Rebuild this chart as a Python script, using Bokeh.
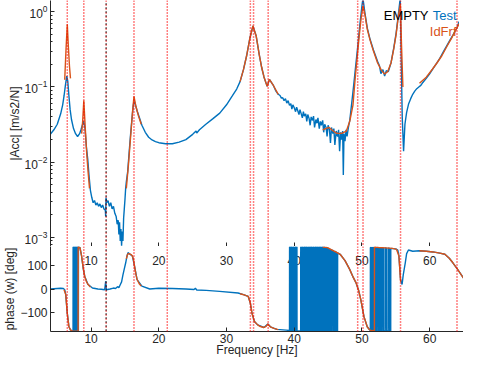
import numpy as np
from bokeh.plotting import figure
from bokeh.models import Range1d, Span, Label, FixedTicker
from bokeh.layouts import column
from bokeh.embed import file_html
from bokeh.resources import INLINE
from bokeh.core.properties import value

# ---------------- data ----------------
x_ticks = [10, 20, 30, 40, 50, 60]
phase_ticks = [-100, 0, 100]
mode_freqs = [6.48, 8.92, 16.33, 21.25, 33.52, 33.99, 36.15, 49.37, 50.16, 55.70, 64.04]
other_freqs = [12.22]

# measured FRF magnitude (Test): (Hz, m/s2/N)
test_mag = [
    (4.0, 0.0237), (4.5, 0.027), (5.0, 0.032), (5.5, 0.044), (5.8, 0.058), (6.0, 0.076),
    (6.2, 0.105), (6.4, 0.14), (6.55, 0.12), (6.7, 0.08), (6.9, 0.05), (7.1, 0.037),
    (7.4, 0.028), (7.7, 0.024), (8.0, 0.022), (8.3, 0.024), (8.5, 0.027), (8.7, 0.031),
    (8.9, 0.035), (9.1, 0.028), (9.3, 0.016), (9.5, 0.011), (9.7, 0.0065), (9.9, 0.0042),
    (10.1, 0.0034), (10.3, 0.0029), (10.5, 0.0031), (10.7, 0.0027), (10.9, 0.0029),
    (11.1, 0.0026), (11.3, 0.0028), (11.5, 0.0025), (11.7, 0.0027), (11.9, 0.0024),
    (12.1, 0.0023), (12.15, 0.0019), (12.2, 0.0034), (12.3, 0.0029), (12.5, 0.0031),
    (12.7, 0.0026), (12.9, 0.0029), (13.1, 0.0024), (13.3, 0.0026), (13.5, 0.0021),
    (13.7, 0.0019), (13.85, 0.0015), (14.0, 0.0017), (14.1, 0.0011), (14.2, 0.0016),
    (14.3, 0.0009), (14.4, 0.0013), (14.5, 0.00078), (14.6, 0.0012), (14.7, 0.0009),
    (14.8, 0.0018), (14.9, 0.0024), (15.0, 0.0032), (15.1, 0.0045), (15.2, 0.0055),
    (15.4, 0.0075), (15.6, 0.013), (15.8, 0.022), (16.0, 0.035), (16.2, 0.055),
    (16.35, 0.066), (16.5, 0.06), (16.8, 0.048), (17.1, 0.04), (17.5, 0.031),
    (18.0, 0.025), (18.5, 0.0215), (19.0, 0.0198), (19.5, 0.0188), (20.0, 0.0182),
    (21.0, 0.0176), (22.0, 0.0176), (23.0, 0.0185), (24.0, 0.02), (25.0, 0.0235),
    (25.5, 0.026), (25.6, 0.0245), (26.0, 0.027), (26.9, 0.0317), (28.0, 0.038),
    (29.0, 0.045), (30.0, 0.058), (30.85, 0.076), (31.5, 0.094), (32.0, 0.118),
    (32.5, 0.17), (32.96, 0.258), (33.43, 0.437), (33.9, 0.646), (34.37, 0.48),
    (34.83, 0.27), (35.2, 0.18), (35.53, 0.136), (36.0, 0.102), (36.33, 0.126),
    (36.94, 0.104), (37.3, 0.088), (37.64, 0.08), (37.9, 0.077), (38.1, 0.071),
    (38.3, 0.072), (38.5, 0.066), (38.7, 0.07), (38.9, 0.061), (39.1, 0.066),
    (39.3, 0.057), (39.5, 0.06), (39.65, 0.051), (39.8, 0.058), (40.0, 0.053),
    (40.2, 0.047), (40.35, 0.054), (40.5, 0.049), (40.7, 0.043), (40.85, 0.05),
    (41.0, 0.045), (41.2, 0.039), (41.35, 0.047), (41.5, 0.041), (41.7, 0.044),
    (41.85, 0.035), (42.0, 0.043), (42.2, 0.038), (42.35, 0.031), (42.5, 0.04),
    (42.7, 0.036), (42.85, 0.041), (43.0, 0.029), (43.2, 0.037), (43.35, 0.033),
    (43.5, 0.039), (43.7, 0.028), (43.85, 0.035), (44.0, 0.031), (44.2, 0.036),
    (44.35, 0.025), (44.5, 0.032), (44.7, 0.029), (44.85, 0.022), (45.0, 0.031),
    (45.2, 0.027), (45.35, 0.018), (45.5, 0.029), (45.7, 0.024), (45.85, 0.028),
    (46.0, 0.017), (46.2, 0.026), (46.4, 0.022), (46.55, 0.027), (46.7, 0.014),
    (46.85, 0.025), (47.0, 0.02), (47.15, 0.026), (47.25, 0.0068), (47.35, 0.024),
    (47.5, 0.019), (47.65, 0.027), (47.8, 0.022), (48.0, 0.029), (48.2, 0.036),
    (48.5, 0.062), (48.8, 0.11), (49.1, 0.2), (49.4, 0.36), (49.7, 0.68), (50.0, 1.2),
    (50.15, 1.5), (50.45, 0.95), (50.8, 0.6), (51.2, 0.43), (51.7, 0.31), (52.3, 0.22),
    (52.6, 0.19), (52.8, 0.15), (53.1, 0.17), (53.35, 0.14), (53.6, 0.165), (53.9, 0.16),
    (54.3, 0.21), (54.7, 0.33), (55.05, 0.52), (55.4, 0.95), (55.65, 1.5), (55.8, 0.25),
    (55.95, 0.04), (56.15, 0.014), (56.35, 0.032), (56.6, 0.046), (56.9, 0.06),
    (57.2, 0.07), (57.5, 0.08), (57.8, 0.088), (58.1, 0.095), (58.4, 0.1), (58.7, 0.105),
    (59.0, 0.115), (59.5, 0.13), (60.0, 0.15), (60.5, 0.175), (61.0, 0.205), (61.5, 0.24),
    (62.0, 0.29), (62.5, 0.35), (63.0, 0.42), (63.5, 0.5), (64.0, 0.6), (64.3, 0.72),
    (64.6, 0.78), (64.8, 0.72), (65.0, 0.68),
]

# identified FRF magnitude (IdFrf), fitted bands
idfrf_mag_bands = [
    [(6.1, 0.125), (6.3, 0.33), (6.48, 0.68), (6.65, 0.33), (6.8, 0.19), (6.95, 0.13)],
    [(8.6, 0.024), (8.75, 0.035), (8.92, 0.066), (9.05, 0.04), (9.15, 0.027),
     (9.35, 0.013), (9.55, 0.0075), (9.76, 0.0045)],
    [(15.2, 0.0045), (15.5, 0.009), (15.8, 0.02), (16.1, 0.045), (16.33, 0.075),
     (16.6, 0.056), (17.0, 0.041), (17.4, 0.032)],
    [(32.0, 0.118), (32.5, 0.17), (32.96, 0.258), (33.43, 0.437), (33.9, 0.646),
     (34.37, 0.48), (34.83, 0.27), (35.2, 0.18), (35.53, 0.136), (36.0, 0.102),
     (36.33, 0.126), (36.94, 0.104), (37.64, 0.08)],
    [(44.2, 0.027), (45.15, 0.029), (45.75, 0.026), (46.3, 0.0242), (47.0, 0.0242),
     (47.7, 0.026), (48.2, 0.035), (48.67, 0.057), (49.0, 0.13), (49.3, 0.25),
     (49.6, 0.48), (49.9, 0.85), (50.16, 1.2), (50.45, 0.9), (50.8, 0.58), (51.2, 0.42),
     (51.7, 0.3), (52.3, 0.21), (52.9, 0.165), (53.35, 0.149), (53.8, 0.16), (54.3, 0.21),
     (54.7, 0.32), (55.05, 0.5), (55.4, 0.9), (55.68, 1.25), (55.85, 0.35), (56.05, 0.1)],
    [(58.5, 0.112), (59.5, 0.135), (60.4, 0.172), (61.1, 0.21), (61.8, 0.26),
     (62.5, 0.34), (63.2, 0.44), (63.8, 0.56), (64.3, 0.68), (64.7, 0.77), (65.0, 0.83)],
]

# measured phase (Test): (Hz, deg)
test_phase = [
    (4.0, 0), (4.5, 1), (5.0, 2), (5.5, 3), (5.9, 2), (6.1, -3), (6.25, -23), (6.48, -103),
    (6.72, -160), (6.95, -173), (7.2, -178),
    (7.33, -178), (7.34, 178), (7.38, 178), (7.39, -178), (7.43, -178), (7.44, 178),
    (7.48, 178), (7.49, -178), (7.53, -178), (7.54, 178), (7.58, 178), (7.59, -178),
    (7.63, -178), (7.64, 178), (7.68, 178), (7.69, -178), (7.73, -178), (7.74, 178),
    (7.78, 178), (7.79, -178), (7.83, -178), (7.84, 178), (7.88, 178), (7.89, -178),
    (7.93, -178), (7.94, 178), (7.98, 178), (7.99, -178), (8.03, -178), (8.04, 178),
    (8.08, 178), (8.09, -178), (8.12, -178), (8.13, 178),
    (8.35, 175), (8.59, 140), (8.82, 90), (9.05, 54), (9.52, 20), (10.2, 4), (11.0, 0),
    (11.5, -1), (12.0, -3), (12.15, 33), (12.25, -3), (12.8, 0), (13.3, 4), (13.6, 2),
    (13.9, 10), (14.1, 6), (14.3, 18), (14.5, 30), (14.7, 60), (14.9, 85), (15.1, 110),
    (15.3, 140), (15.45, 154), (15.62, 150), (16.09, 140), (16.41, 97), (16.79, 40),
    (17.5, 12), (18.66, 0), (20.0, 3), (22.0, 2), (24.0, 0), (25.2, -2), (25.4, 3),
    (25.6, -4), (27.0, -6), (28.98, -10), (31.7, -17), (32.5, -24), (33.2, -31),
    (33.52, -60), (33.76, -103), (34.13, -138), (34.6, -152), (35.53, -163), (36.1, -148),
    (36.48, -160), (37.42, -171), (38.8, -174), (39.3, -176),
    (39.31, 178), (39.45, 178), (39.46, -178), (39.55, -178), (39.56, 178), (39.70, 178),
    (39.71, -178), (39.85, -178), (39.86, 178), (39.95, 178), (39.96, -178), (40.10, -178),
    (40.11, 178), (40.25, 178), (40.26, -178), (40.35, -178), (40.36, 178), (40.40, 178),
    (40.41, -178), (40.95, -178), (40.96, 178), (41.05, 178), (41.06, -178), (41.20, -178),
    (41.21, 178), (41.30, 178), (41.31, -178), (41.45, -178), (41.46, 178), (41.60, 178),
    (41.61, -178), (41.70, -178), (41.71, 178), (41.85, 178), (41.86, -178), (42.00, -178),
    (42.01, 178), (42.10, 178), (42.11, -178), (42.25, -178), (42.26, 178), (42.40, 178),
    (42.41, -178), (42.50, -178), (42.51, 178), (42.65, 178), (42.66, -178), (42.80, -178),
    (42.81, 178), (42.90, 178), (42.91, -178), (43.05, -178), (43.06, 178), (43.20, 178),
    (43.21, -178), (43.30, -178), (43.31, 178), (43.45, 178), (43.46, -178), (43.60, -178),
    (43.61, 178), (43.75, 178), (43.76, -178), (43.85, -178), (43.86, 178), (44.00, 178),
    (44.01, -178), (44.15, -178), (44.16, 178), (44.25, 178), (44.26, -178), (44.40, -178),
    (44.41, 177), (44.55, 177), (44.56, -178), (44.70, -178), (44.71, 176), (44.85, 175),
    (44.86, -178), (45.00, -178), (45.01, 173), (45.15, 171), (45.16, -178), (45.30, -178),
    (45.31, 168), (45.45, 167), (45.46, -178), (45.60, -178), (45.61, 165), (45.80, 162),
    (45.81, -178), (46.00, -178), (46.01, 159), (46.20, 156), (46.21, -178), (46.40, -178),
    (46.41, 153), (46.78, 147), (47.5, 120), (48.19, 83), (48.7, 50), (49.13, 26),
    (49.5, -5), (49.83, -45), (50.3, -117), (50.78, -160), (51.1, -172), (51.24, -176),
    (51.25, 176), (51.35, 176), (51.36, -178), (51.45, -178), (51.46, 176), (51.55, 176),
    (51.56, -178), (51.65, -178), (51.66, 176), (51.75, 176), (51.76, -178), (51.90, -178),
    (51.91, 176), (52.05, 176), (52.06, -178), (52.20, -178), (52.21, 176), (52.40, 175),
    (52.41, -178), (52.60, -178), (52.61, 175), (52.75, 175), (52.76, -178), (52.95, -178),
    (52.96, 174), (53.15, 174), (53.16, -178), (53.40, -178), (53.41, 174), (53.60, 173),
    (53.61, -178), (53.85, -178), (53.86, 173), (54.05, 173), (54.06, -178), (54.25, -178),
    (54.26, 172),
    (55.0, 170), (55.3, 165), (55.46, 140), (55.7, 40), (55.93, 19), (56.1, 60),
    (56.4, 111), (56.6, 150), (56.87, 165), (57.5, 160), (58.5, 162), (59.5, 160),
    (60.5, 157), (61.5, 152), (62.25, 147), (62.9, 130), (63.43, 111), (64.13, 83),
    (64.98, 47),
]

# identified phase (IdFrf), fitted bands
idfrf_phase_bands = [
    [(6.0, -3), (6.25, -23), (6.48, -103), (6.72, -160), (6.95, -173), (7.2, -178),
     (8.08, -179), (8.09, 179), (8.35, 175), (8.59, 140), (8.82, 90), (9.05, 54),
     (9.3, 32), (9.52, 20), (9.9, 8)],
    [(15.2, 128), (15.4, 148), (15.62, 150), (15.9, 146), (16.09, 140), (16.25, 125),
     (16.41, 97), (16.6, 65), (16.79, 40), (17.1, 22), (17.4, 13)],
    [(32.0, -20), (32.6, -25), (33.2, -31), (33.52, -60), (33.76, -103), (34.13, -138),
     (34.6, -152), (35.0, -159), (35.53, -163), (35.85, -158), (36.1, -148),
     (36.48, -160), (37.0, -167), (37.64, -172)],
    [(44.2, 178), (44.9, 175), (45.6, 165), (46.2, 156), (46.78, 147), (47.5, 120),
     (48.19, 83), (48.7, 50), (49.13, 26), (49.5, -5), (49.83, -45), (50.3, -117),
     (50.78, -160), (51.1, -172), (51.48, -177), (51.84, -178), (51.85, 178),
     (52.5, 176), (53.5, 174), (54.5, 172), (55.1, 168), (55.46, 140), (55.72, 30)],
    [(58.5, 162), (59.5, 160), (60.5, 157), (61.5, 152), (62.25, 147), (62.9, 130),
     (63.43, 111), (64.13, 83), (65.0, 46)],
]

# ---------------- styling ----------------
FONT = "Liberation Sans"
BLUE = "#0072BD"
ORANGE = "#D95319"
AX = "#262626"
X_RANGE = (4, 65)
MAG_RANGE = (7.6e-4, 1.41)
PH_RANGE = (-180, 180)
LEFT = 44
FRAME_W = 413
TOP_FH = 246
BOT_FH = 85


def pairs(pts):
    a = np.array(pts, dtype=float)
    return a[:, 0], a[:, 1]


def bands(list_of_bands):
    xs, ys = [], []
    for b in list_of_bands:
        x, y = pairs(b)
        xs.append(x)
        ys.append(y)
    return xs, ys


def style_axis(ax, label=None, label_standoff=0):
    if label is not None:
        ax.axis_label = label
        ax.axis_label_text_font = FONT
        ax.axis_label_text_font_size = "12px"
        ax.axis_label_text_font_style = "normal"
        ax.axis_label_text_color = AX
        ax.axis_label_standoff = label_standoff
    ax.major_label_text_font = FONT
    ax.major_label_text_font_size = "12px"
    ax.major_label_text_color = AX
    ax.major_label_standoff = 3
    ax.major_tick_in = 4
    ax.major_tick_out = 0
    ax.axis_line_color = AX
    ax.major_tick_line_color = AX


x_range = Range1d(*X_RANGE)

top = figure(frame_width=FRAME_W, frame_height=TOP_FH, x_range=x_range,
             y_range=Range1d(*MAG_RANGE), y_axis_type="log",
             output_backend="svg", toolbar_location=None,
             min_border_left=LEFT, min_border_right=0, min_border_top=0, min_border_bottom=0)
bot = figure(frame_width=FRAME_W, frame_height=BOT_FH, x_range=x_range,
             y_range=Range1d(*PH_RANGE),
             output_backend="svg", toolbar_location=None,
             min_border_left=LEFT, min_border_right=0, min_border_top=0, min_border_bottom=0)

for p in (top, bot):
    p.outline_line_color = None
    p.grid.visible = False
    p.background_fill_color = "white"
    p.border_fill_color = "white"

# magnitude panel axes
ya = top.yaxis[0]
style_axis(ya, "|Acc| [m/s2/N]", 0)
ya.minor_tick_in = 2
ya.minor_tick_out = 0
ya.minor_tick_line_color = AX

xa = top.xaxis[0]
style_axis(xa)
xa.ticker = FixedTicker(ticks=x_ticks)
xa.minor_tick_line_color = None
xa.major_label_text_color = None      # its labels are drawn inside the phase panel
xa.major_label_text_font_size = "1px"
xa.major_label_standoff = 0

# phase panel axes
yb = bot.yaxis[0]
style_axis(yb, "phase (w) [deg]", 0)
yb.ticker = FixedTicker(ticks=phase_ticks)
yb.minor_tick_line_color = None

xb = bot.xaxis[0]
style_axis(xb, "Frequency [Hz]", -3)
xb.ticker = FixedTicker(ticks=x_ticks)
xb.minor_tick_line_color = None
xb.major_label_standoff = 2

# tick labels of the magnitude panel overlap the top of the phase panel
bot.text(x=x_ticks, y=[PH_RANGE[1]] * len(x_ticks), text=[str(t) for t in x_ticks],
         text_align="center", text_baseline="top", y_offset=9,
         text_font=value(FONT), text_font_size="12px", text_color=AX)

# mode markers
for p in (top, bot):
    for f in mode_freqs:
        p.add_layout(Span(location=f, dimension="height", line_color="#ff0000",
                          line_dash="1 2", line_width=1.5))
    for f in other_freqs:   # red and black dotted lines on top of each other
        p.add_layout(Span(location=f, dimension="height", line_color="#ff0000",
                          line_dash="1 3", line_width=1.5))
        p.add_layout(Span(location=f, dimension="height", line_color="#000000",
                          line_dash="1 3", line_dash_offset=1, line_width=1.5))

# magnitude
tx, ty = pairs(test_mag)
top.line(tx, ty, line_color=BLUE, line_width=1.4)
mx, my = bands(idfrf_mag_bands)
top.multi_line(mx, my, line_color=ORANGE, line_width=1.4)

# phase
px, py = pairs(test_phase)
bot.line(px, py, line_color=BLUE, line_width=1.4)
qx, qy = bands(idfrf_phase_bands)
bot.multi_line(qx, qy, line_color=ORANGE, line_width=1.4)

# legend-like texts (screen units, relative to the plot frame)
top.add_layout(Label(x=FRAME_W - 35, y=TOP_FH - 15, x_units="screen", y_units="screen",
                     text="EMPTY", text_align="right", text_baseline="alphabetic",
                     text_color="black", text_font=FONT, text_font_size="13px"))
top.add_layout(Label(x=FRAME_W - 7, y=TOP_FH - 15, x_units="screen", y_units="screen",
                     text="Test", text_align="right", text_baseline="alphabetic",
                     text_color=BLUE, text_font=FONT, text_font_size="13px"))
top.add_layout(Label(x=FRAME_W - 7, y=TOP_FH - 31, x_units="screen", y_units="screen",
                     text="IdFrf", text_align="right", text_baseline="alphabetic",
                     text_color=ORANGE, text_font=FONT, text_font_size="13px"))

layout = column(top, bot, spacing=0)
open("out.html", "w").write(file_html(layout, INLINE))
